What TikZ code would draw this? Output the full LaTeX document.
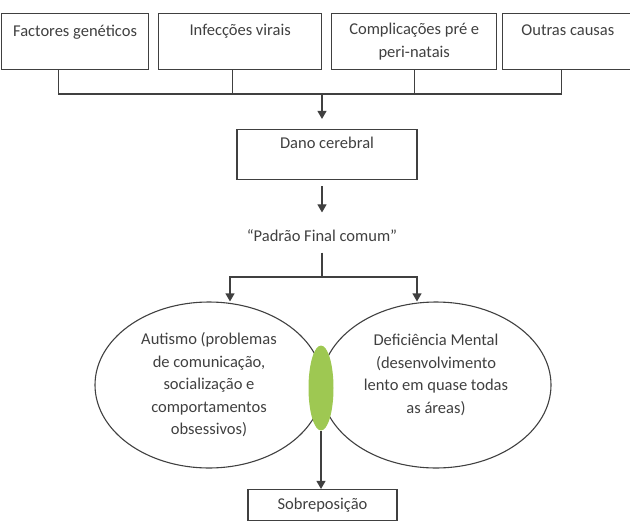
\documentclass[tikz,border=0pt]{standalone}
\usepackage{fontspec}
\setmainfont{Carlito}
\usetikzlibrary{shapes.geometric,arrows.meta,positioning}
\definecolor{cinza}{RGB}{64,64,64}
\definecolor{verdeovo}{RGB}{158,200,82}

\begin{document}
\begin{tikzpicture}[x=1pt, y=-1pt, line width=1.1pt, color=cinza,
  font=\fontsize{16.5}{22.5}\selectfont,
  caixa/.style = {draw, rectangle, minimum height=56pt, align=center, inner sep=0pt},
  elipse/.style = {draw, ellipse, minimum height=166pt, align=center, inner sep=0pt},
  seta/.style = {-{Triangle[width=9pt,length=8pt]}}]
\useasboundingbox (0,0) rectangle (630,528);

% causas
\node[caixa, minimum width=147pt, anchor=north west] (f1) at (1,13) {Factores genéticos\\\mbox{}};
\node[caixa, minimum width=163pt, right=9pt of f1] (f2) {Infecções virais\\\mbox{}};
\node[caixa, minimum width=165pt, right=9pt of f2] (f3) {Complicações pré e\\peri-natais};
\node[caixa, minimum width=130pt, right=5pt of f3] (f4) {Outras causas\\\mbox{}};

\coordinate (bus) at (322,94);
\draw ([xshift=-17pt]f1.south) |- (bus) -| ([xshift=-6pt]f4.south);
\draw ([xshift=-8pt]f2.south) -- ([xshift=-8pt]f2.south |- bus);
\draw (f3.south) -- (f3.south |- bus);

% dano
\node[caixa, minimum width=180pt, minimum height=50pt] (dano) at (327,154.5) {Dano cerebral\\\mbox{}};
\draw[seta, shorten >=10pt] (bus) -- (bus |- dano.north);

\node[inner sep=0pt] (padrao) at (322,236) {“Padrão Final comum”};
\draw[seta, shorten <=6pt, shorten >=17pt] (dano.south -| bus) -- (padrao.north);

% elipses
\node[elipse, minimum width=228pt] (autismo) at (209,385) {Autismo (problemas\\de comunicação,\\socialização e\\comportamentos\\obsessivos)};
\node[elipse, minimum width=230pt] (deficiencia) at (436,385) {Deficiência Mental\\(desenvolvimento\\lento em quase todas\\as áreas)\\\mbox{}};
\node[ellipse, fill=verdeovo, minimum width=25pt, minimum height=85pt, inner sep=0pt] (verde) at (321,388) {};

\coordinate (ramo) at (322,277);
\draw[shorten <=10pt] (padrao.south) -- (ramo);
\draw[seta] (ramo) -| ([xshift=21pt]autismo.north);
\draw[seta] (ramo) -| ([xshift=-19pt]deficiencia.north);

% sobreposicao
\node[caixa, minimum width=149pt, minimum height=31pt] (sobre) at (322.5,505) {Sobreposição};
\draw[seta] (verde.south) -- (verde.south |- sobre.north);
\end{tikzpicture}
\end{document}
